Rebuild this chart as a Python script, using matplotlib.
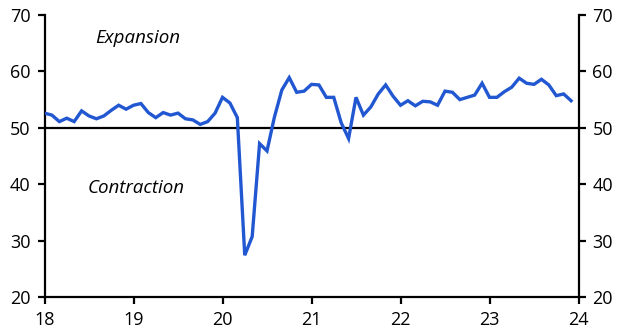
import matplotlib
matplotlib.use("Agg")
import matplotlib.pyplot as plt
import numpy as np

plt.rcParams['font.family'] = ['Open Sans', 'DejaVu Sans']

values = [
    52.6, 52.25, 51.1, 51.7, 51.1, 53.0, 52.1, 51.6, 52.1, 53.1, 54.0, 53.3,
    54.0, 54.3, 52.7, 51.8, 52.7, 52.25, 52.6, 51.6, 51.4, 50.6, 51.1, 52.6,
    55.4, 54.4, 51.8, 27.4, 30.7, 47.2, 45.9, 51.9, 56.7, 58.9, 56.3, 56.5,
    57.7, 57.6, 55.4, 55.4, 50.9, 48.1, 55.4, 52.25, 53.7, 56.0, 57.6, 55.6,
    54.0, 54.8, 53.9, 54.7, 54.6, 54.0, 56.5, 56.3, 55.0, 55.4, 55.8, 57.9,
    55.4, 55.4, 56.4, 57.2, 58.8, 57.9, 57.7, 58.6, 57.6, 55.7, 56.0, 54.8,
]
start_year = 18
x_ticks = [18, 19, 20, 21, 22, 23, 24]
x_labels = ["18", "19", "20", "21", "22", "23", "24"]
y_ticks = [20, 30, 40, 50, 60, 70]
threshold = 50

x = start_year + np.arange(len(values)) / 12.0

fig = plt.figure(figsize=(6.23, 3.36), dpi=100)
ax = fig.add_axes([44.5 / 623, 1 - 297 / 336, (578.5 - 44.5) / 623, (297 - 15) / 336])

ax.axhline(threshold, color='black', lw=1.6, zorder=2)
ax.plot(x, values, color='#2257D2', lw=2.4, zorder=3, solid_joinstyle='miter')

ax.set_xlim(18, 24)
ax.set_ylim(20, 70)
ax.set_xticks(x_ticks)
ax.set_xticklabels(x_labels)
ax.set_yticks(y_ticks)

ax.spines['top'].set_visible(False)
for s in ['left', 'right', 'bottom']:
    ax.spines[s].set_linewidth(1.6)
    ax.spines[s].set_color('black')

ax.tick_params(axis='both', which='both', direction='out', length=5, width=1.6,
               labelsize=13, colors='black')
ax.tick_params(axis='y', left=True, right=True, labelleft=True, labelright=True, pad=5)
ax.tick_params(axis='x', pad=5)

ax.text(18.57, 66.0, "Expansion", fontsize=13.5, style='italic', va='center', ha='left')
ax.text(18.49, 39.4, "Contraction", fontsize=13.5, style='italic', va='center', ha='left')

fig.savefig("out.png", dpi=100)
